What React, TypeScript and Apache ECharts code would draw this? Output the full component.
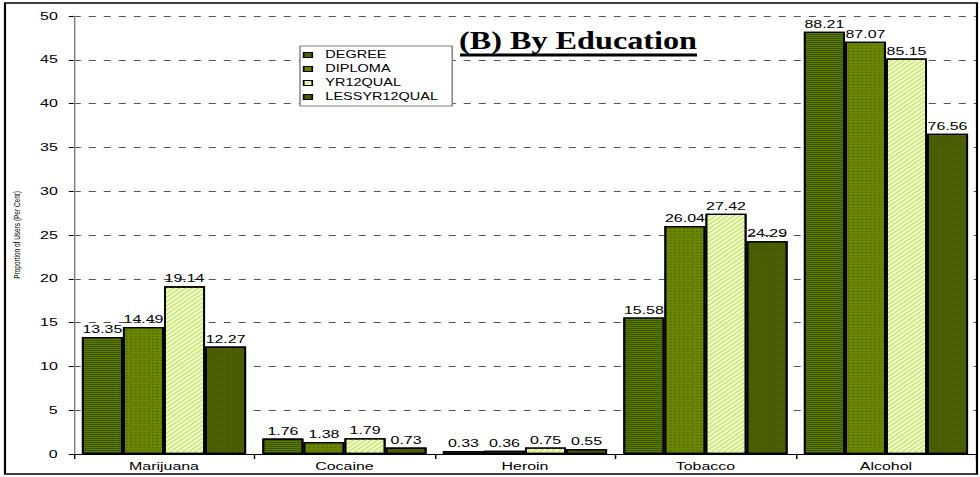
import React, { useEffect, useRef } from "react";
import * as echarts from "echarts";

const categories = ["Marijuana", "Cocaine", "Heroin", "Tobacco", "Alcohol"];
const seriesNames = ["DEGREE", "DIPLOMA", "YR12QUAL", "LESSYR12QUAL"];
// Bar heights as drawn (Alcohol bars are drawn on a broken scale in the original)
const degreeBars = [13.35, 1.76, 0.33, 15.58, 48.21];
const diplomaBars = [14.49, 1.38, 0.36, 26.04, 47.07];
const yr12Bars = [19.14, 1.79, 0.75, 27.42, 45.15];
const lessBars = [12.27, 0.73, 0.55, 24.29, 36.56];
// Printed data labels
const degreeLabels = ["13.35", "1.76", "0.33", "15.58", "88.21"];
const diplomaLabels = ["14.49", "1.38", "0.36", "26.04", "87.07"];
const yr12Labels = ["19.14", "1.79", "0.75", "27.42", "85.15"];
const lessLabels = ["12.27", "0.73", "0.55", "24.29", "76.56"];
const yAxisTitle = "Proportion of Users (Per Cent)";
const chartTitle = "(B) By Education";

const barData = [degreeBars, diplomaBars, yr12Bars, lessBars];
const labelData = [degreeLabels, diplomaLabels, yr12Labels, lessLabels];

// The original picture is stretched horizontally; reproduce that with a CSS scaleX.
const S = 1.45;
const W = 980;
const H = 477;
const ix = (v: number) => v / S;

const fills = ["#5c7b00", "#6a8500", "#f0f9d2", "#4f6200"];
const decals: any[] = [
  { symbol: "rect", symbolSize: 1, dashArrayX: [1, 0], dashArrayY: [1, 1], color: "rgba(50,75,0,0.8)", rotation: 0 },
  { symbol: "rect", symbolSize: 1, dashArrayX: [1, 1.5], dashArrayY: [1, 1.5], color: "rgba(60,85,0,0.8)", rotation: 0 },
  { symbol: "rect", symbolSize: 1, dashArrayX: [1, 0], dashArrayY: [1, 1.5], color: "#bfe24a", rotation: -Math.PI / 4 },
  { symbol: "rect", symbolSize: 1, dashArrayX: [1, 1], dashArrayY: [1, 1], color: "rgba(60,75,0,0.9)", rotation: 0 },
];

export default function App() {
  const ref = useRef<HTMLDivElement>(null);
  useEffect(() => {
    if (!ref.current) return;
    const chart = echarts.init(ref.current, null, { renderer: "svg" });
    const font = "Liberation Sans";
    chart.setOption({
      animation: false,
      backgroundColor: "#ffffff",
      aria: { enabled: true, decal: { show: true } },
      grid: { left: ix(72), right: ix(4), top: 16, bottom: 23 },
      legend: {
        orient: "vertical",
        left: ix(300),
        top: 46,
        icon: "rect",
        itemWidth: 6,
        itemHeight: 5,
        itemGap: 4,
        padding: [4, ix(14), 4, 2],
        backgroundColor: "#ffffff",
        borderColor: "#808080",
        borderWidth: 1,
        textStyle: { fontFamily: font, fontSize: 10, color: "#000", padding: [0, 0, 0, 4] },
        data: seriesNames,
        itemStyle: { borderColor: "#000", borderWidth: 1 },
      },
      xAxis: {
        type: "category",
        data: categories,
        axisLine: { lineStyle: { color: "#000", width: 1 } },
        axisTick: { show: true, length: 5, lineStyle: { color: "#000" } },
        axisLabel: { fontFamily: font, fontSize: 11, color: "#000", margin: 7 },
      },
      yAxis: {
        type: "value",
        min: 0,
        max: 50,
        interval: 5,
        name: yAxisTitle,
        nameLocation: "middle",
        nameGap: ix(52),
        nameTextStyle: { fontFamily: font, fontSize: 6.5, color: "#000" },
        axisLine: { show: true, lineStyle: { color: "#808080", width: 1 } },
        axisTick: { show: true, length: ix(5), lineStyle: { color: "#000" } },
        axisLabel: { fontFamily: font, fontSize: 11, color: "#000", margin: ix(16) },
        splitLine: { show: true, lineStyle: { color: "#555", type: [ix(7), ix(8)], width: 1 } },
      },
      series: seriesNames.map((name, i) => ({
        name,
        type: "bar",
        data: barData[i],
        barGap: "0%",
        barCategoryGap: "9%",
        itemStyle: { color: fills[i], borderColor: "#000", borderWidth: 1.3, decal: decals[i] },
        label: {
          show: true,
          position: "top",
          distance: 2,
          fontFamily: font,
          fontSize: 11,
          color: "#000",
          formatter: (p: any) => labelData[i][p.dataIndex],
        },
      })),
      graphic: [
        {
          type: "rect",
          shape: { x: ix(5), y: 3, width: ix(972), height: 471 },
          style: { fill: "none", stroke: "#000", lineWidth: 1.5 },
          silent: true,
          z: 100,
        },
        {
          type: "text",
          x: ix(578),
          y: 40,
          scaleX: 1.24 / S,
          style: {
            text: chartTitle,
            font: 'bold 26px "Liberation Serif"',
            fill: "#000",
            textAlign: "center",
            textVerticalAlign: "middle",
          },
          z: 100,
        },
        {
          type: "line",
          shape: { x1: ix(460), y1: 55, x2: ix(697), y2: 55 },
          style: { stroke: "#000", lineWidth: 3 },
          z: 100,
        },
      ],
    });
    return () => chart.dispose();
  }, []);
  return (
    <div style={{ position: "absolute", left: 0, top: 0, width: W, height: H, overflow: "hidden" }}>
      <div
        ref={ref}
        style={{
          width: W / S,
          height: H,
          transform: `scaleX(${S})`,
          transformOrigin: "0 0",
        }}
      />
    </div>
  );
}
